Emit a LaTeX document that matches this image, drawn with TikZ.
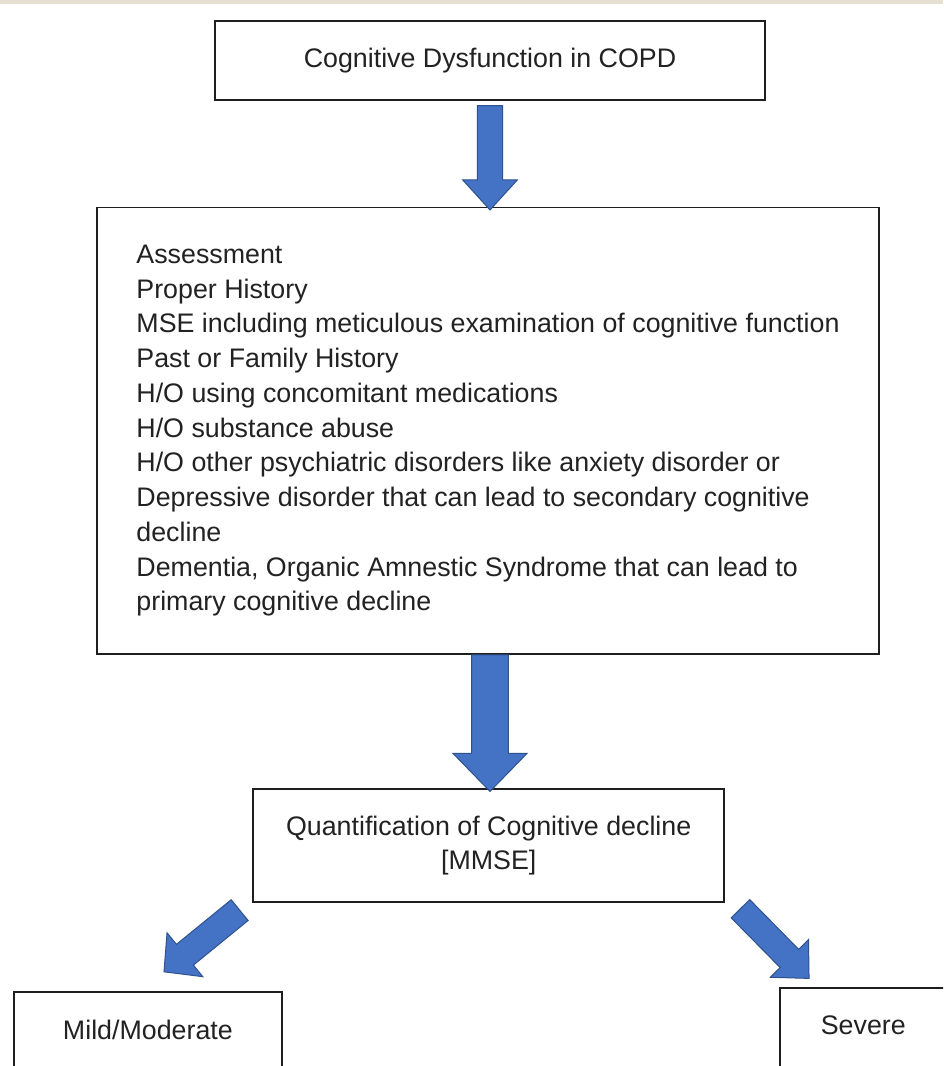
\documentclass[tikz,border=0pt]{standalone}
\usepackage{fontspec}
\setmainfont{Liberation Sans}
\usepackage{xcolor}
\usetikzlibrary{calc}

\definecolor{arrowblue}{HTML}{4472C4}
\definecolor{arrowedge}{HTML}{2F528F}
\definecolor{topband}{HTML}{E4DFD1}
\definecolor{boxline}{HTML}{1E1E1E}
\definecolor{textgray}{HTML}{222222}

% block arrow: tail, tip, half shaft, half head, head length
\newcommand{\fatarrow}[5]{%
    \coordinate (neck) at ($(#2)!#5!(#1)$);
    \draw[barrow] ($(#1)!#3!90:(#2)$) -- ($(neck)!#3!90:(#2)$) -- ($(neck)!#4!90:(#2)$)
        -- (#2) -- ($(neck)!#4!-90:(#2)$) -- ($(neck)!#3!-90:(#2)$) -- ($(#1)!#3!-90:(#2)$) -- cycle;
}

\begin{document}
\begin{tikzpicture}[x=1pt,y=-1pt,
    box/.style={draw=boxline, line width=1.8pt, inner sep=0pt, align=center, text=textgray,
        font=\fontsize{26.8}{34.75}\selectfont},
    barrow/.style={fill=arrowblue, draw=arrowedge, line width=1pt, line join=miter}]
    % Page
    \useasboundingbox (0,0) rectangle (943,1066);
    \clip (0,0) rectangle (943,1066);
    \fill[white] (0,0) rectangle (943,1066);
    \fill[topband] (0,0) rectangle (943,4);

    % Boxes
    \node[box, minimum width=550pt, minimum height=79.5pt] (title) at (490,60.5) {Cognitive Dysfunction in COPD};
    \node[box, align=left, minimum width=782pt, minimum height=446.5pt] (assess) at (488,430.75) {Assessment\\
        Proper History\\
        MSE including meticulous examination of cognitive function\\
        Past or Family History\\
        H/O using concomitant medications\\
        H/O substance abuse\\
        H/O other psychiatric disorders like anxiety disorder or\\
        Depressive disorder that can lead to secondary cognitive\\
        decline\\
        Dementia, Organic Amnestic Syndrome that can lead to\\
        primary cognitive decline};
    \node[box, minimum width=470.7pt, minimum height=112.4pt] (quant) at (488.7,845.5) {Quantification of Cognitive decline\\ {[MMSE]}};
    \node[box, minimum width=267.7pt, minimum height=77pt] (mild) at (147.9,1030.2) {Mild/Moderate};
    \node[box, minimum width=166.7pt, minimum height=80pt, text depth=6pt] (severe) at (863.3,1028.3) {Severe};

    % Arrows
    \coordinate (a1tail) at ($(title.south)+(0,4.5)$);
    \coordinate (a1tip) at ($(title.south)+(0,108.8)$);
    \coordinate (a2tail) at ($(assess.south)+(2,0)$);
    \coordinate (a2tip) at ($(quant.north)+(1.3,3)$);
    \coordinate (a3tail) at ($(quant.south west)+(-12.8,7.5)$);
    \coordinate (a3tip) at ($(mild.north)+(16.1,-19)$);
    \coordinate (a4tail) at ($(quant.south east)+(15.5,6.1)$);
    \coordinate (a4tip) at ($(severe.north west)+(30,-9)$);
    \fatarrow{a1tail}{a1tip}{12.7pt}{27.3pt}{30pt}
    \fatarrow{a2tail}{a2tip}{18.3pt}{37pt}{38pt}
    \fatarrow{a3tail}{a3tip}{13.4pt}{28.3pt}{27pt}
    \fatarrow{a4tail}{a4tip}{13pt}{26.8pt}{28pt}
\end{tikzpicture}
\end{document}
